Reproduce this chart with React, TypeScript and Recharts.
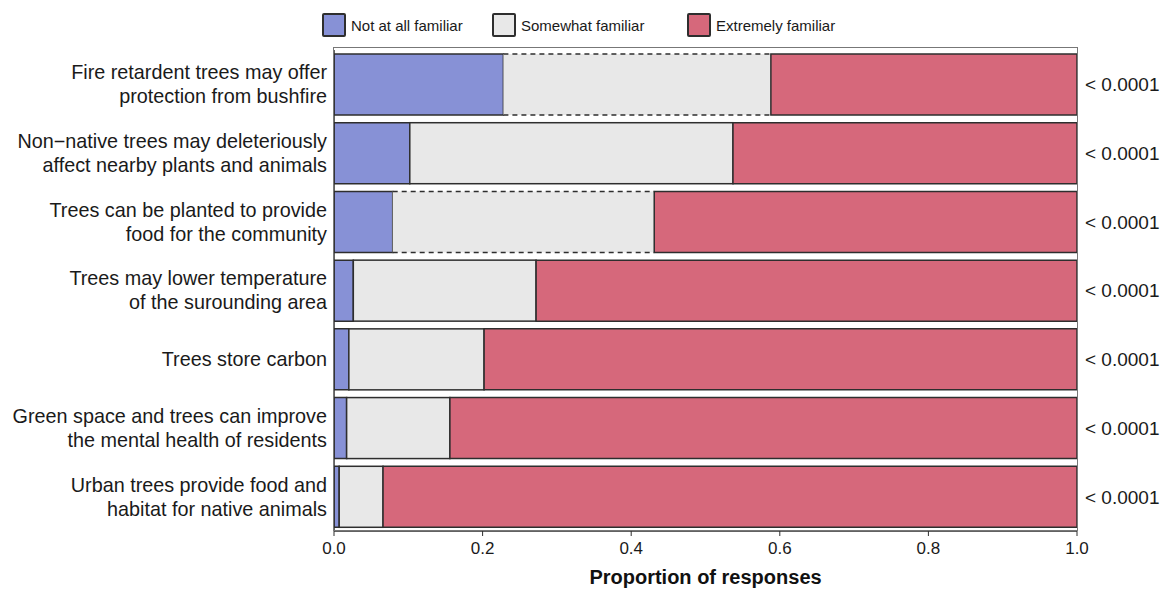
import React from 'react';
import { BarChart, Bar, XAxis, YAxis, LabelList, Label } from 'recharts';

// statements, top to bottom
const statements = [
  'Fire retardent trees may offer\nprotection from bushfire',
  'Non\u2212native trees may deleteriously\naffect nearby plants and animals',
  'Trees can be planted to provide\nfood for the community',
  'Trees may lower temperature\nof the surounding area',
  'Trees store carbon',
  'Green space and trees can improve\nthe mental health of residents',
  'Urban trees provide food and\nhabitat for native animals',
];

// proportions
const notFamiliar = [0.228, 0.102, 0.079, 0.026, 0.020, 0.017, 0.007];
const somewhatFamiliar = [0.360, 0.435, 0.352, 0.246, 0.182, 0.139, 0.059];
const extremelyFamiliar = [0.412, 0.463, 0.569, 0.728, 0.798, 0.844, 0.934];
const pValues = ['< 0.0001', '< 0.0001', '< 0.0001', '< 0.0001', '< 0.0001', '< 0.0001', '< 0.0001'];
const dashedRows = [true, false, true, false, false, false, false];

const seriesNames = ['Not at all familiar', 'Somewhat familiar', 'Extremely familiar'];
const xTicks = [0, 0.2, 0.4, 0.6, 0.8, 1];

const BLUE = '#8791d6';
const GREY = '#e8e8e8';
const RED = '#d6687b';
const EDGE = '#2e2e2e';
const FONT = '"Liberation Sans", Arial, sans-serif';
const seriesColors = [BLUE, GREY, RED];

const data = statements.map((s, i) => ({
  statement: s,
  notAtAll: notFamiliar[i],
  somewhat: somewhatFamiliar[i],
  extremely: extremelyFamiliar[i],
  p: pValues[i],
  dashed: dashedRows[i],
}));

const StatementTick = (props: any) => {
  const { x, y, payload } = props;
  const lines = String(payload.value).split('\n');
  const lh = 24;
  const y0 = y - ((lines.length - 1) * lh) / 2;
  return (
    <text x={x} y={y0} textAnchor="end" fontSize={19.8} fill="#1a1a1a" fontFamily={FONT}>
      {lines.map((l, i) => (
        <tspan key={i} x={x} y={y0 + i * lh} dy="0.35em">
          {l}
        </tspan>
      ))}
    </text>
  );
};

// grey segment: dashed top/bottom edge on some rows
const SomewhatShape = (props: any) => {
  const { x, y, width, height, payload } = props;
  if (!payload || !payload.dashed) {
    return <rect x={x} y={y} width={width} height={height} fill={GREY} stroke={EDGE} strokeWidth={1.5} />;
  }
  return (
    <g>
      <rect x={x} y={y} width={width} height={height} fill={GREY} />
      <line x1={x} x2={x + width} y1={y} y2={y} stroke={EDGE} strokeWidth={1.5} strokeDasharray="5 4" />
      <line x1={x} x2={x + width} y1={y + height} y2={y + height} stroke={EDGE} strokeWidth={1.5} strokeDasharray="5 4" />
    </g>
  );
};

const LegendBox = () => {
  const lefts = [322, 492, 687];
  return (
    <div style={{ position: 'absolute', left: 0, top: 13, width: 1164, height: 24, fontFamily: FONT }}>
      {seriesNames.map((name, i) => (
        <div key={name} style={{ position: 'absolute', left: lefts[i], top: 0, display: 'flex', alignItems: 'center' }}>
          <div style={{ width: 20, height: 20, background: seriesColors[i], border: `2px solid ${EDGE}`, borderRadius: 2 }} />
          <span style={{ marginLeft: 5, fontSize: 15, color: '#1a1a1a', whiteSpace: 'nowrap' }}>{name}</span>
        </div>
      ))}
    </div>
  );
};

export default function App() {
  return (
    <div style={{ position: 'absolute', left: 0, top: 0, width: 1164, height: 589, background: '#fff' }}>
      <LegendBox />
      <BarChart
        width={1164}
        height={589}
        data={data}
        layout="vertical"
        margin={{ top: 50, right: 87, bottom: 0, left: 0 }}
        barSize={61}
      >
        <XAxis
          type="number"
          domain={[0, 1]}
          ticks={xTicks}
          tickFormatter={(v: number) => v.toFixed(1)}
          height={58}
          axisLine={{ stroke: EDGE, strokeWidth: 1.5 }}
          tickLine={{ stroke: EDGE }}
          tickSize={5}
          tickMargin={6}
          tick={{ fontSize: 17, fill: '#1a1a1a', fontFamily: FONT }}
        >
          <Label
            value="Proportion of responses"
            position="insideBottom"
            offset={5}
            style={{ fontSize: 20, fontWeight: 700, fill: '#111', fontFamily: FONT }}
          />
        </XAxis>
        <YAxis
          type="category"
          dataKey="statement"
          width={334}
          axisLine={{ stroke: EDGE, strokeWidth: 1.5 }}
          tickLine={false}
          tickSize={0}
          tickMargin={7}
          tick={<StatementTick />}
          interval={0}
        />
        <Bar dataKey="notAtAll" stackId="a" fill={BLUE} stroke={EDGE} strokeWidth={1.5} isAnimationActive={false} />
        <Bar dataKey="somewhat" stackId="a" fill={GREY} shape={<SomewhatShape />} isAnimationActive={false} />
        <Bar dataKey="extremely" stackId="a" fill={RED} stroke={EDGE} strokeWidth={1.5} isAnimationActive={false}>
          <LabelList dataKey="p" position="right" offset={8} fill="#1a1a1a" fontSize={19} fontFamily={FONT} />
        </Bar>
      </BarChart>
      <div
        style={{
          position: 'absolute',
          left: 333,
          top: 47,
          width: 745,
          height: 484,
          border: '1.5px solid #777',
          boxSizing: 'border-box',
          pointerEvents: 'none',
        }}
      />
    </div>
  );
}
